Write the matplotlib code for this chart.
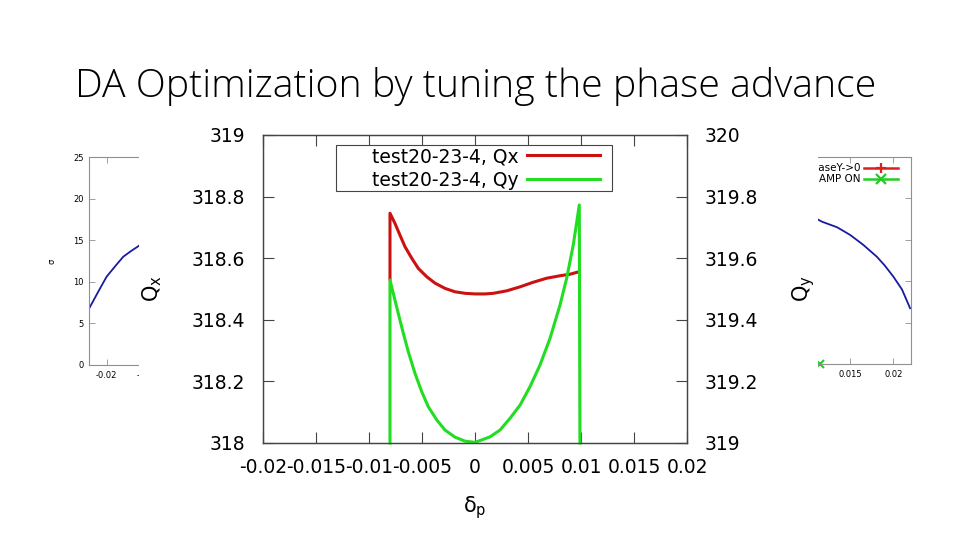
import numpy as np
import matplotlib
matplotlib.use('Agg')
import matplotlib.pyplot as plt
from matplotlib.patches import Rectangle


# --------------------------------- #
# data

# main plot: tune vs momentum offset
dp_x = [-0.00802, -0.00802, -0.00755, -0.00708, -0.00660, -0.00597, -0.00535,
        -0.00456, -0.00377, -0.00283, -0.00189, -0.00094, 0.0, 0.00094,
        0.00173, 0.00299, 0.00425, 0.00550, 0.00676, 0.00802, 0.00896,
        0.00981]
qx = [318.532, 318.746, 318.713, 318.675, 318.637, 318.600, 318.567,
      318.540, 318.519, 318.502, 318.491, 318.486, 318.484, 318.484,
      318.486, 318.494, 318.507, 318.522, 318.535, 318.543, 318.548,
      318.556]

dp_y = [-0.00802, -0.00802, -0.00771, -0.00724, -0.00676, -0.00629, -0.00566,
        -0.00503, -0.00441, -0.00361, -0.00283, -0.00189, -0.00094, 0.0,
        0.00142, 0.00236, 0.00330, 0.00425, 0.00519, 0.00613, 0.00708,
        0.00802, 0.00865, 0.00927, 0.00984, 0.0099]
qy = [319.0, 319.529, 319.486, 319.421, 319.356, 319.296, 319.226,
      319.167, 319.118, 319.075, 319.042, 319.019, 319.006, 319.002,
      319.020, 319.042, 319.080, 319.123, 319.183, 319.253, 319.340,
      319.448, 319.535, 319.643, 319.773, 319.0]

labels = ['test20-23-4, Qx', 'test20-23-4, Qy']
x_ticks = [-0.02, -0.015, -0.01, -0.005, 0, 0.005, 0.01, 0.015, 0.02]
x_tick_labels = ['-0.02', '-0.015', '-0.01', '-0.005', '0', '0.005', '0.01',
                 '0.015', '0.02']
qx_ticks = [318, 318.2, 318.4, 318.6, 318.8, 319]
qx_tick_labels = ['318', '318.2', '318.4', '318.6', '318.8', '319']
qy_ticks = [319, 319.2, 319.4, 319.6, 319.8, 320]
qy_tick_labels = ['319', '319.2', '319.4', '319.6', '319.8', '320']

# background plots (mostly hidden behind the main one)
bg_left_x = [-0.02201, -0.02097, -0.0200, -0.0190, -0.01808, -0.0172,
             -0.01642, -0.0150]
bg_left_y = [6.82, 8.82, 10.63, 11.9, 13.03, 13.7, 14.24, 15.3]
bg_right_x = [0.0110, 0.01173, 0.0135, 0.0150, 0.0165, 0.01808, 0.0190,
              0.0200, 0.0210, 0.02193]
bg_right_y = [17.6, 17.18, 16.5, 15.58, 14.4, 12.96, 11.9, 10.55, 9.0, 6.75]
bg_right_amp_x = [0.0115]
bg_right_amp_y = [0]
bg_y_ticks = [0, 5, 10, 15, 20, 25]
bg_x_ticks = [-0.02, -0.015, -0.01, -0.005, 0, 0.005, 0.01, 0.015, 0.02]
# only the labels that peek out from behind the main plot
bg_left_x_labels = ['-0.02', '-0.015', '', '', '', '', '', '', '']
bg_right_x_labels = ['', '', '', '', '', '', '', '0.015', '0.02']
bg_legend = ['phaseY->0', 'AMP ON']


# --------------------------------- #

W, H = 960, 540
fig = plt.figure(figsize=(9.6, 5.4), dpi=100)
fig.patch.set_facecolor('white')


def box(x0, y0, x1, y1):
    # pixel box (top-left origin) -> figure fraction rect
    return [x0 / W, 1 - y1 / H, (x1 - x0) / W, (y1 - y0) / H]


def bg_axes(rect, xlabels):
    ax = fig.add_axes(rect, zorder=0)
    for s in ax.spines.values():
        s.set_color('#909090')
        s.set_linewidth(0.8)
    ax.set_xlim(-0.022, 0.022)
    ax.set_ylim(0, 25)
    ax.set_xticks(bg_x_ticks)
    ax.set_xticklabels(xlabels)
    ax.set_yticks(bg_y_ticks)
    ax.tick_params(direction='in', length=4, width=0.6, color='#909090',
                   labelsize=6, top=True, right=True, pad=4)
    return ax


# left background plot
axl = bg_axes(box(89.3, 157.3, 470, 365), bg_left_x_labels)
axl.plot(bg_left_x, bg_left_y, color='#1a1aa0', lw=1.3)
axl.set_ylabel('σ', fontsize=6, labelpad=12)

# right background plot
axr = bg_axes(box(530, 156.7, 910.7, 364.3), bg_right_x_labels)
axr.set_yticklabels([])
axr.plot(bg_right_x, bg_right_y, color='#1a1aa0', lw=1.3)
axr.plot(bg_right_amp_x, bg_right_amp_y, color='#22cc22', marker='x', ms=6,
         mew=1.5, ls='none', clip_on=False)
for lab, col, mk, yy in zip(bg_legend, ['#dd2020', '#22cc22'], ['+', 'x'],
                            [0.947, 0.891]):
    axr.text(0.869, yy, lab, transform=axr.transAxes, ha='right',
             va='center', fontsize=7.5)
    axr.plot([0.877, 0.967], [yy, yy], transform=axr.transAxes, color=col,
             lw=1.8)
    axr.plot([0.922], [yy], transform=axr.transAxes, color=col, marker=mk,
             ms=7, mew=1.6)

# white sheet of the pasted main plot
fig.patches.append(Rectangle((139 / W, 0), (818 - 139) / W, 1,
                             transform=fig.transFigure, facecolor='white',
                             edgecolor='none', zorder=1))

# main plot
ax = fig.add_axes(box(263, 135, 687, 443), zorder=2)
ax.patch.set_alpha(0)
ax2 = ax.twinx()
ax2.set_zorder(3)
ax2.patch.set_alpha(0)

l1, = ax.plot(dp_x, qx, color='#cc1111', lw=2.2)
l2, = ax2.plot(dp_y, qy, color='#22dd22', lw=2.2, clip_on=False)

ax.set_xlim(-0.02, 0.02)
ax.set_ylim(318, 319)
ax2.set_ylim(319, 320)
ax.set_xticks(x_ticks)
ax.set_xticklabels(x_tick_labels)
ax.set_yticks(qx_ticks)
ax.set_yticklabels(qx_tick_labels)
ax2.set_yticks(qy_ticks)
ax2.set_yticklabels(qy_tick_labels)

for a in (ax, ax2):
    for s in a.spines.values():
        s.set_color('#444444')
        s.set_linewidth(0.9)
ax.tick_params(axis='x', direction='in', length=8, width=0.8,
               color='#444444', labelsize=13.5, top=True, pad=11)
ax.tick_params(axis='y', direction='in', length=8, width=0.8,
               color='#444444', labelsize=13.5, pad=13)
ax2.tick_params(axis='y', direction='in', length=8, width=0.8,
                color='#444444', labelsize=13.5, pad=13)

ax.set_xlabel(r'δ$_\mathregular{p}$', fontsize=15, labelpad=12)
ax.set_ylabel(r'Q$_\mathregular{x}$', fontsize=15, labelpad=20)
ax2.set_ylabel(r'Q$_\mathregular{y}$', fontsize=15, labelpad=23)

# gnuplot style key: right aligned text, wide box
ax2.add_patch(Rectangle((0.1722, 0.8182), 0.8231 - 0.1722, 0.9675 - 0.8182,
                        transform=ax2.transAxes, facecolor='white',
                        edgecolor='#444444', lw=0.8, zorder=4))
leg = ax2.legend([l1, l2], labels, loc='upper right',
                 bbox_to_anchor=(0.7948, 0.961), markerfirst=False,
                 fontsize=13.5, handlelength=3.9, handletextpad=0.45,
                 borderpad=0, labelspacing=0.25, frameon=False,
                 borderaxespad=0)
leg.set_zorder(5)

fig.text(75 / W, 1 - 97 / H, 'DA Optimization by tuning the phase advance',
         fontsize=28.3, family='Open Sans', weight='light', ha='left',
         va='baseline', zorder=5)

fig.savefig('out.png', dpi=100)
